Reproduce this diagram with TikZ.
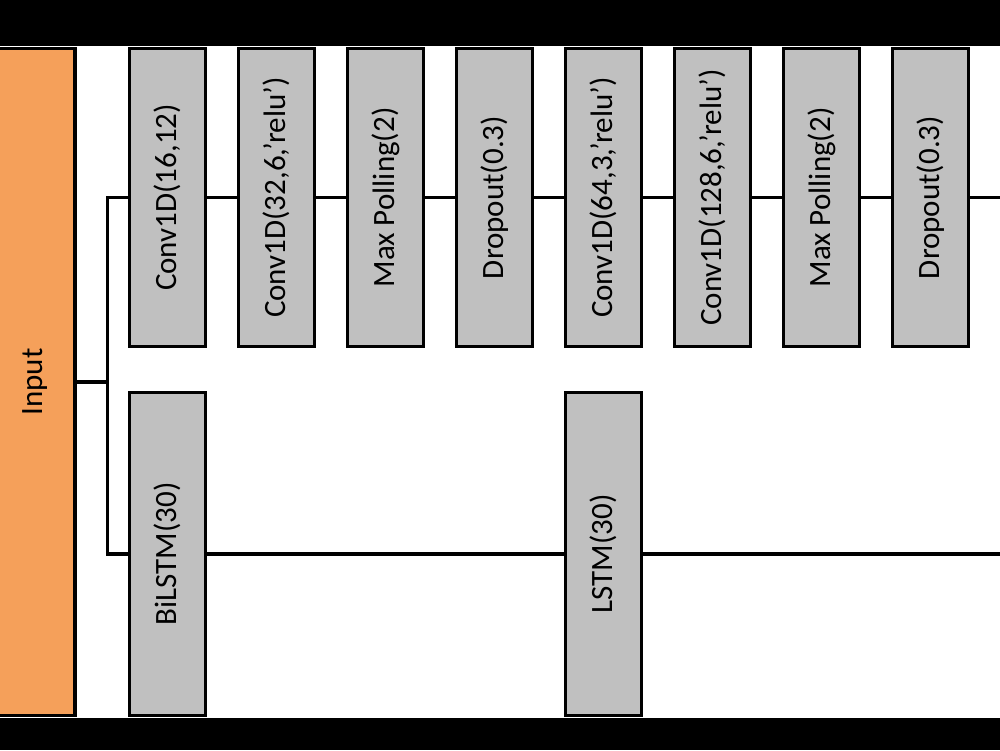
\documentclass[tikz,border=0pt]{standalone}
\usepackage{fontspec}
\setmainfont{Carlito}
\definecolor{inorange}{RGB}{245,160,90}
\definecolor{boxgray}{RGB}{192,192,192}
\begin{document}
\begin{tikzpicture}[x=1pt,y=-1pt,
  layer/.style={draw=black, fill=boxgray, line width=3.5pt, rotate=90, inner sep=0pt,
    minimum width=298pt, minimum height=76pt, font=\fontsize{31}{36}\selectfont},
  tall/.style={layer, minimum width=323pt},
  inbox/.style={draw=black, fill=inorange, line width=3.5pt, rotate=90, inner sep=0pt,
    minimum width=667pt, minimum height=80pt, font=\fontsize{31}{36}\selectfont},
  link/.style={line width=3.5pt}]
\useasboundingbox (0,0) rectangle (1000,750);
\fill[white] (0,0) rectangle (1000,750);
% input
\node[inbox] (in) at (35,382) {Input};
% top row
\node[layer] (c1) at (167.5,197.5) {Conv1D(16,12)};
\node[layer] (c2) at (276.5,197.5) {Conv1D(32,6,’relu’)};
\node[layer] (m1) at (385.5,197.5) {Max Polling(2)};
\node[layer] (d1) at (494.5,197.5) {Dropout(0.3)};
\node[layer] (c3) at (603.5,197.5) {Conv1D(64,3,’relu’)};
\node[layer] (c4) at (712.5,197.5) {Conv1D(128,6,’relu’)};
\node[layer] (m2) at (821.5,197.5) {Max Polling(2)};
\node[layer] (d2) at (930.5,197.5) {Dropout(0.3)};
% bottom row
\node[tall] (bi) at (167.5,554) {BiLSTM(30)};
\node[tall] (ls) at (603.5,554) {LSTM(30)};
% connectors
\coordinate (split) at (107.5,382);
\coordinate (e1) at (1002,197.5);
\coordinate (e2) at (1002,554);
\draw[link] (in.south) -- (split);
\draw[link] (split) |- (c1.north);
\draw[link] (split) |- (bi.north);
\draw[link] (c1.south) -- (c2.north);
\draw[link] (c2.south) -- (m1.north);
\draw[link] (m1.south) -- (d1.north);
\draw[link] (d1.south) -- (c3.north);
\draw[link] (c3.south) -- (c4.north);
\draw[link] (c4.south) -- (m2.north);
\draw[link] (m2.south) -- (d2.north);
\draw[link] (d2.south) -- (e1);
\draw[link] (bi.south) -- (ls.north);
\draw[link] (ls.south) -- (e2);
% black bars
\fill[black] (0,0) rectangle (1000,46);
\fill[black] (0,718) rectangle (1000,750);
\end{tikzpicture}
\end{document}
